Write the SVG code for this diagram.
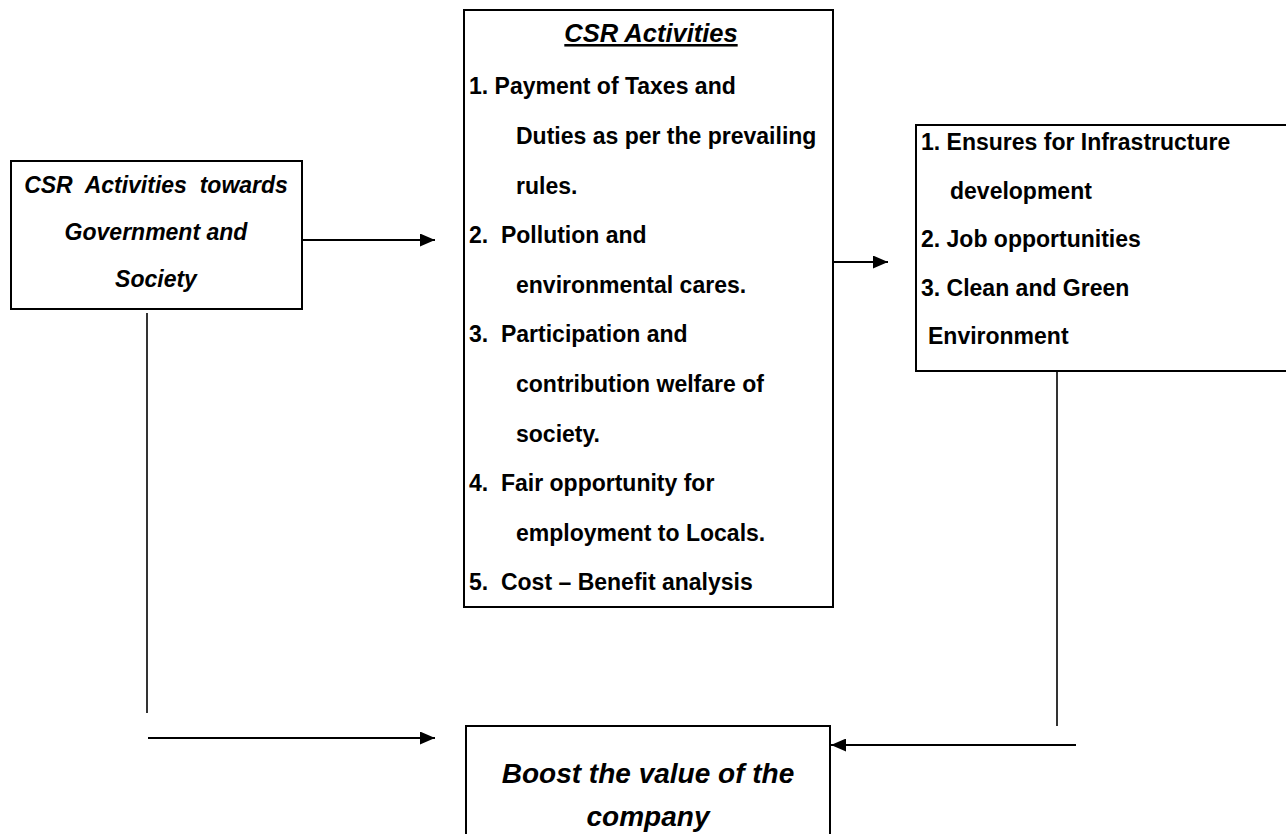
<svg xmlns="http://www.w3.org/2000/svg" width="1286" height="834" viewBox="0 0 1286 834">
  <style>
    .box { fill: #ffffff; stroke: #000000; stroke-width: 2; }
    .conn { fill: none; stroke: #000000; stroke-width: 2.2; }
    .vline { fill: none; stroke: #000000; stroke-width: 1.6; }
    .t { font-family: "Liberation Sans", Arial, sans-serif; font-weight: bold; font-size: 23px; fill: #000000; white-space: pre; }
    .ti { font-family: "Liberation Sans", Arial, sans-serif; font-weight: bold; font-style: italic; font-size: 23px; fill: #000000; white-space: pre; text-anchor: middle; }
    .title { font-family: "Liberation Sans", Arial, sans-serif; font-weight: bold; font-style: italic; font-size: 25.5px; fill: #000000; text-anchor: middle; text-decoration: underline; }
    .big { font-family: "Liberation Sans", Arial, sans-serif; font-weight: bold; font-style: italic; font-size: 28px; fill: #000000; text-anchor: middle; }
  </style>
  <defs>
    <marker id="arrow" markerUnits="userSpaceOnUse" viewBox="0 0 15 13" refX="15" refY="6.5" markerWidth="15" markerHeight="13" orient="auto">
      <path d="M0,0 L15,6.5 L0,13 z" fill="#000000"/>
    </marker>
  </defs>
  <rect width="1286" height="834" fill="#ffffff"/>

  <g id="node-gov-society">
    <rect class="box" x="11" y="161" width="291" height="148"/>
    <text class="ti" x="156" y="193">CSR  Activities  towards</text>
    <text class="ti" x="156" y="240">Government and</text>
    <text class="ti" x="156" y="287">Society</text>
  </g>

  <g id="node-csr-activities">
    <rect class="box" x="464" y="10" width="369" height="597"/>
    <text class="title" x="651" y="42">CSR Activities</text>
    <text class="t" x="469" y="94">1. Payment of Taxes and</text>
    <text class="t" x="516" y="144">Duties as per the prevailing</text>
    <text class="t" x="516" y="194">rules.</text>
    <text class="t" x="469" y="243">2.  Pollution and</text>
    <text class="t" x="516" y="293">environmental cares.</text>
    <text class="t" x="469" y="342">3.  Participation and</text>
    <text class="t" x="516" y="392">contribution welfare of</text>
    <text class="t" x="516" y="442">society.</text>
    <text class="t" x="469" y="491">4.  Fair opportunity for</text>
    <text class="t" x="516" y="541">employment to Locals.</text>
    <text class="t" x="469" y="590">5.  Cost – Benefit analysis</text>
  </g>

  <g id="node-outcomes">
    <rect class="box" x="916" y="125" width="380" height="246"/>
    <text class="t" x="921" y="150">1. Ensures for Infrastructure</text>
    <text class="t" x="950" y="199">development</text>
    <text class="t" x="921" y="247">2. Job opportunities</text>
    <text class="t" x="921" y="296">3. Clean and Green</text>
    <text class="t" x="928" y="344">Environment</text>
  </g>

  <g id="node-boost">
    <rect class="box" x="466" y="726" width="364" height="120"/>
    <text class="big" x="648" y="783">Boost the value of the</text>
    <text class="big" x="648" y="826">company</text>
  </g>

  <g id="connectors">
    <line class="conn" x1="303" y1="240" x2="435" y2="240" marker-end="url(#arrow)"/>
    <line class="conn" x1="833" y1="262" x2="888" y2="262" marker-end="url(#arrow)"/>
    <line class="vline" x1="147" y1="313" x2="147" y2="713"/>
    <line class="conn" x1="148" y1="738" x2="435" y2="738" marker-end="url(#arrow)"/>
    <line class="vline" x1="1057" y1="372" x2="1057" y2="726"/>
    <line class="conn" x1="1076" y1="745" x2="831" y2="745" marker-end="url(#arrow)"/>
  </g>
</svg>
